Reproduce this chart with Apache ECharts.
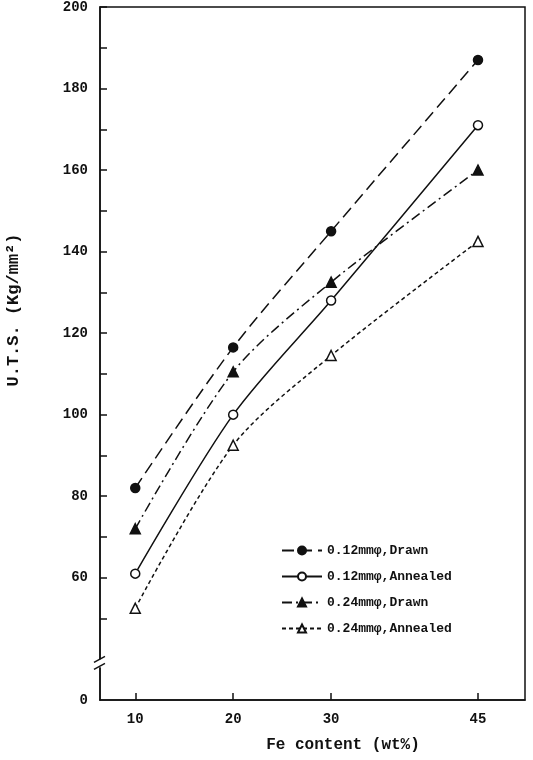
<!DOCTYPE html>
<html>
<head>
<meta charset="utf-8">
<script src="https://cdn.jsdelivr.net/npm/echarts@6.0.0/dist/echarts.min.js"></script>
<style>
  html, body { margin: 0; padding: 0; background: #fff; }
  #chart { width: 533px; height: 760px; }
</style>
</head>
<body>
<div id="chart"></div>
<script>
// Fe content (wt%) on the x axis
const feContent = [10, 20, 30, 45]
// U.T.S. (Kg/mm2)
const drawn012 = [82, 116.5, 145, 187]
const annealed012 = [61, 100, 128, 171]
const drawn024 = [72, 110.5, 132.5, 160]
const annealed024 = [52.5, 92.5, 114.5, 142.5]

const seriesNames = [
  "0.12mmφ,Drawn",
  "0.12mmφ,Annealed",
  "0.24mmφ,Drawn",
  "0.24mmφ,Annealed"
]
const xTicks = [10, 20, 30, 45]
const yLabelTicks = [30, 60, 80, 100, 120, 140, 160, 180, 200]
const yMinorTicks = [50, 60, 70, 80, 90, 100, 110, 120, 130, 140, 150, 160, 170, 180, 190, 200]

// axis is broken: its bottom (30 on the scale) stands for 0
const yBottom = 30

const font = "Liberation Mono"
const ink = "#111"

const pairs = (ys) => feContent.map((x, i) => [x, ys[i]])

function lineSeries(name, ys, symbol, filled, dash) {
  return {
    name: name,
    type: "line",
    data: pairs(ys),
    smooth: 0.3,
    symbol: symbol,
    symbolSize: symbol === "triangle" ? 10 : 9,
    itemStyle: {
      color: filled ? ink : "#fff",
      borderColor: ink,
      borderWidth: 1.5
    },
    lineStyle: { color: ink, width: 1.5, type: dash },
    emphasis: { disabled: true }
  }
}

const chart = echarts.init(document.getElementById("chart"), null, { renderer: "canvas" })

const option = {
  animation: false,
  backgroundColor: "#fff",
  grid: {
    left: 100,
    right: 8,
    top: 7,
    bottom: 60,
    show: true,
    borderColor: ink,
    borderWidth: 1.5
  },
  legend: {
    orient: "vertical",
    left: 276,
    top: 539,
    itemWidth: 40,
    itemHeight: 10,
    itemGap: 13,
    selectedMode: false,
    textStyle: { fontFamily: font, fontWeight: "bold", fontSize: 13, color: ink },
    data: seriesNames
  },
  xAxis: {
    type: "value",
    min: 6.4,
    max: 49.8,
    splitLine: { show: false },
    axisLine: { lineStyle: { color: ink, width: 1.5 } },
    axisTick: { inside: true, length: 7, customValues: xTicks, lineStyle: { color: ink, width: 1.5 } },
    axisLabel: {
      customValues: xTicks,
      margin: 12,
      fontFamily: font,
      fontWeight: "bold",
      fontSize: 14,
      color: ink
    }
  },
  yAxis: {
    type: "value",
    min: yBottom,
    max: 200,
    splitLine: { show: false },
    axisLine: { lineStyle: { color: ink, width: 1.5 } },
    axisTick: { inside: true, length: 7, customValues: yMinorTicks, lineStyle: { color: ink, width: 1.5 } },
    axisLabel: {
      customValues: yLabelTicks,
      margin: 12,
      fontFamily: font,
      fontWeight: "bold",
      fontSize: 14,
      color: ink,
      formatter: (v) => (v === yBottom ? "0" : String(v))
    }
  },
  series: [
    lineSeries(seriesNames[0], drawn012, "circle", true, [12, 6]),
    lineSeries(seriesNames[1], annealed012, "circle", false, "solid"),
    lineSeries(seriesNames[2], drawn024, "triangle", true, [10, 4, 2, 4]),
    lineSeries(seriesNames[3], annealed024, "triangle", false, [4, 3])
  ]
}

chart.setOption(option)

/* axis titles and the break mark on the y axis */
const axisX = chart.convertToPixel({ xAxisIndex: 0 }, 6.4)
const breakY = chart.convertToPixel({ yAxisIndex: 0 }, 39)

chart.setOption({
  graphic: [
    {
      type: "rect",
      shape: { x: axisX - 5, y: breakY - 4, width: 10, height: 8 },
      style: { fill: "#fff" },
      z: 100
    },
    {
      type: "line",
      shape: { x1: axisX - 6, y1: breakY - 1, x2: axisX + 5, y2: breakY - 7 },
      style: { stroke: ink, lineWidth: 1.5 },
      z: 101
    },
    {
      type: "line",
      shape: { x1: axisX - 6, y1: breakY + 6, x2: axisX + 5, y2: breakY },
      style: { stroke: ink, lineWidth: 1.5 },
      z: 101
    },
    {
      type: "text",
      x: 14,
      y: 310,
      rotation: Math.PI / 2,
      style: {
        text: "U.T.S. (Kg/mm²)",
        fontFamily: font,
        fontWeight: "bold",
        fontSize: 17,
        fill: ink,
        align: "center",
        verticalAlign: "middle"
      }
    },
    {
      type: "text",
      x: 343,
      y: 745,
      style: {
        text: "Fe content (wt%)",
        fontFamily: font,
        fontWeight: "bold",
        fontSize: 16,
        fill: ink,
        align: "center",
        verticalAlign: "middle"
      }
    }
  ]
})
</script>
</body>
</html>
